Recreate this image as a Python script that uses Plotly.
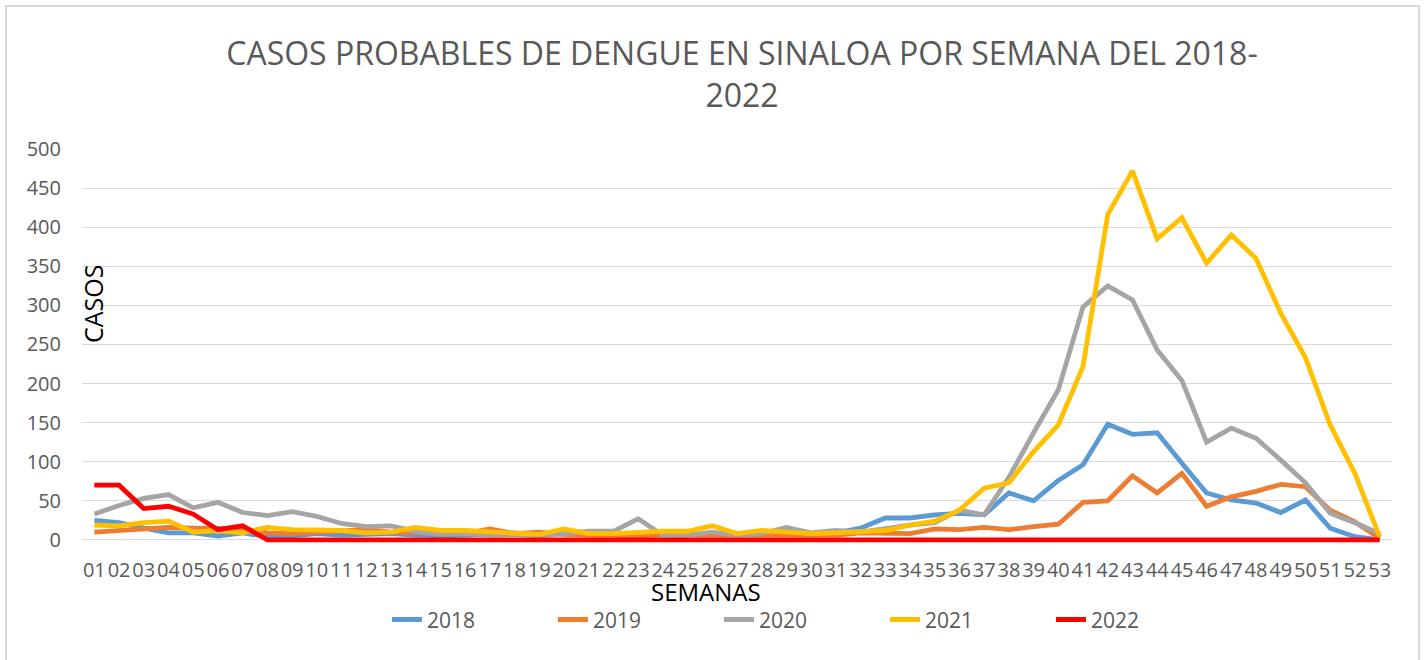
import plotly.graph_objects as go

weeks = [f"{i:02d}" for i in range(1, 54)]

y2018 = [25, 22, 15, 9, 9, 5, 9, 4, 5, 8, 6, 7, 8, 6, 5, 6, 8, 9, 6, 8, 6, 7, 6, 8, 7, 6, 7, 8, 7, 6,
         9, 15, 28, 28, 32, 34, 32, 60, 50, 76, 96, 148, 135, 137, 98, 60, 51, 47, 35, 51, 15, 4, 0]
y2019 = [10, 12, 15, 16, 15, 14, 14, 9, 8, 10, 12, 13, 10, 9, 8, 8, 14, 8, 10, 7, 6, 5, 5, 6, 6, 5, 6, 5, 5, 5,
         6, 9, 9, 8, 14, 13, 16, 13, 17, 20, 48, 50, 82, 60, 85, 43, 55, 62, 71, 68, 38, 23, 2]
y2020 = [33, 44, 53, 58, 41, 48, 35, 31, 36, 30, 21, 17, 18, 11, 7, 8, 6, 7, 5, 8, 11, 11, 27, 6, 6, 10, 6, 8, 16, 9,
         12, 10, 15, 19, 22, 38, 32, 80, 137, 192, 298, 325, 307, 243, 204, 125, 143, 130, 102, 73, 34, 22, 8]
y2021 = [19, 18, 22, 24, 10, 12, 9, 16, 13, 12, 12, 9, 10, 16, 12, 12, 10, 8, 7, 14, 8, 8, 10, 11, 11, 18, 8, 12, 10, 8,
         9, 10, 12, 19, 24, 38, 66, 73, 113, 147, 222, 416, 472, 385, 412, 354, 390, 360, 290, 233, 147, 85, 4]
y2022 = [70, 70, 40, 43, 33, 13, 18] + [0] * 46

series = [("2018", y2018, "#5B9BD5"), ("2019", y2019, "#ED7D31"), ("2020", y2020, "#A5A5A5"),
          ("2021", y2021, "#FFC000"), ("2022", y2022, "#FF0000")]

fig = go.Figure()
for name, vals, color in series:
    fig.add_trace(go.Scatter(x=weeks, y=vals, name=name, mode="lines",
                             line=dict(color=color, width=4.8)))

grey = "#595959"
ymin = -4.0
ppu = 391 / 500.0
bottom_px = 540 - ymin * ppu  # plot-area bottom in pixels
plot_h = bottom_px - 149

def py(px):
    return (bottom_px - px) / plot_h

fig.update_layout(
    width=1425, height=660,
    paper_bgcolor="white", plot_bgcolor="white",
    margin=dict(l=82, r=33, t=149, b=660 - bottom_px, autoexpand=False),
    font=dict(family="Open Sans", color=grey),
    title=dict(text="CASOS PROBABLES DE DENGUE EN SINALOA POR SEMANA DEL 2018-<br>2022",
               x=(742-82)/1310, xanchor="center", xref="paper", y=1 - 65/660, yanchor="top",
               font=dict(size=32, color=grey, family="Open Sans")),
    xaxis=dict(type="category", showgrid=False, tickangle=0,
               tickfont=dict(size=20, color=grey), ticks="", showline=False,
               ticklabelstandoff=13, range=[-0.5, 52.5]),
    yaxis=dict(range=[ymin, 500], tickvals=list(range(0, 501, 50)), showgrid=True,
               gridcolor="#D9D9D9", gridwidth=1,
               zeroline=True, zerolinecolor="#D9D9D9", zerolinewidth=1,
               tickfont=dict(size=20, color=grey), ticklabelstandoff=20),
    showlegend=True,
    legend=dict(orientation="h", x=(387-82)/1310, xanchor="left", y=py(620), yanchor="middle",
                entrywidth=121, entrywidthmode="pixels",
                font=dict(size=21, color=grey), bgcolor="rgba(0,0,0,0)"),
    annotations=[
        dict(text="CASOS", x=(93-82)/1310, y=py(304), xref="paper", yref="paper",
             textangle=-90, showarrow=False, xanchor="center", yanchor="middle",
             font=dict(size=25, color="black")),
        dict(text="SEMANAS", x=(706-82)/1310, y=py(592), xref="paper", yref="paper",
             showarrow=False, xanchor="center", yanchor="middle",
             font=dict(size=24, color="black")),
    ],
    shapes=[dict(type="rect", xref="paper", yref="paper",
                 x0=(6-82)/1310, x1=(1419-82)/1310, y0=py(665), y1=py(6),
                 line=dict(color="#D9D9D9", width=2), layer="below")],
)

fig.write_html("out.html", config={"displayModeBar": False},
               post_script="document.body.style.margin='0px';")
